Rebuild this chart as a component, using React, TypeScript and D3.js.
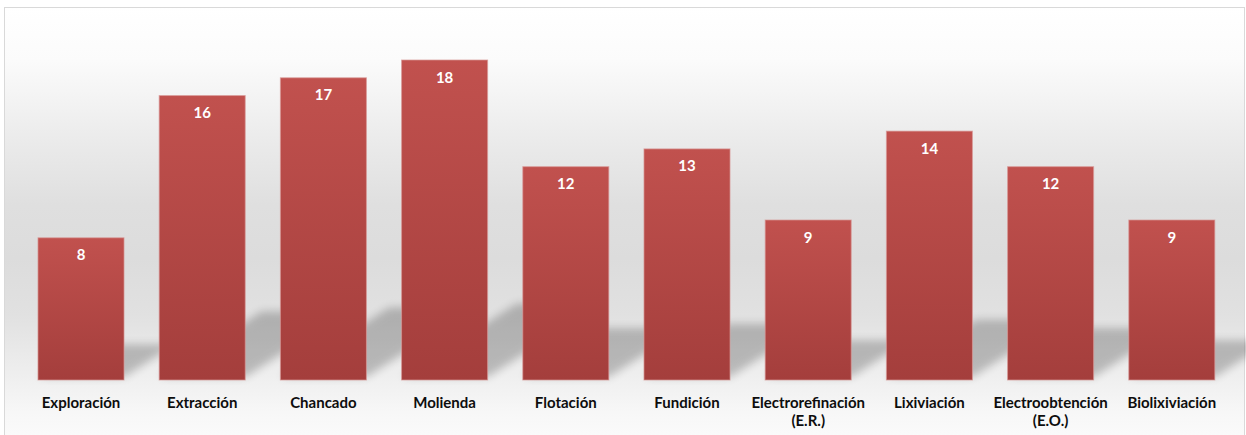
import React from "react";
import * as d3 from "d3";

const categories: string[] = [
  "Exploración",
  "Extracción",
  "Chancado",
  "Molienda",
  "Flotación",
  "Fundición",
  "Electrorefinación\n(E.R.)",
  "Lixiviación",
  "Electroobtención\n(E.O.)",
  "Biolixiviación",
];
const values: number[] = [8, 16, 17, 18, 12, 13, 9, 14, 12, 9];

const W = 1246;
const H = 435;
const BASE = 380;
const TOP = 60;

export default function App() {
  const x = d3
    .scaleBand<string>()
    .domain(categories)
    .range([20.4, 1232.4])
    .paddingInner(0.29)
    .paddingOuter(0.145);
  const y = d3.scaleLinear().domain([0, 18]).range([BASE, TOP]);
  const font = "Lato, 'Open Sans', sans-serif";

  return (
    <div style={{ position: "absolute", left: 0, top: 0 }}>
      <svg width={W} height={H} style={{ display: "block" }}>
        <defs>
          <linearGradient id="bg" x1="0" y1="0" x2="0" y2="1">
            <stop offset="0" stopColor="#ffffff" />
            <stop offset="0.12" stopColor="#fbfbfb" />
            <stop offset="0.3" stopColor="#ebebeb" />
            <stop offset="0.45" stopColor="#dfdfdf" />
            <stop offset="0.57" stopColor="#dcdcdc" />
            <stop offset="0.7" stopColor="#e1e1e1" />
            <stop offset="0.83" stopColor="#eeeeee" />
            <stop offset="0.92" stopColor="#f7f7f7" />
            <stop offset="1" stopColor="#fcfcfc" />
          </linearGradient>
          <linearGradient id="bar" x1="0" y1="0" x2="0" y2="1">
            <stop offset="0" stopColor="#c1514e" />
            <stop offset="1" stopColor="#a43e3c" />
          </linearGradient>
          <filter id="blur" x="-20%" y="-50%" width="140%" height="200%">
            <feGaussianBlur stdDeviation="4" />
          </filter>
        </defs>
        <rect x={4.5} y={7.5} width={1240} height={440} fill="url(#bg)" stroke="#d9d9d9" strokeWidth={1} />
        <g opacity={0.22} filter="url(#blur)">
          {categories.map((c, i) => {
            const x0 = x(c)!;
            const x1 = x0 + x.bandwidth();
            const h = BASE - y(values[i]);
            const sh = 0.23 * h;
            const dx = 0.36 * h;
            const b = BASE - 3;
            const pts = [
              [x0, b],
              [x1, b],
              [x1 + dx, b - sh],
              [x0 + dx, b - sh],
            ];
            return <polygon key={c} points={pts.map((p) => p.join(",")).join(" ")} fill="#000" />;
          })}
        </g>
        {categories.map((c, i) => {
          const x0 = x(c)!;
          const top = y(values[i]);
          return (
            <g key={c}>
              <rect
                x={x0}
                y={top}
                width={x.bandwidth()}
                height={BASE - top}
                fill="url(#bar)"
                stroke="#d99a98"
                strokeOpacity={0.7}
                strokeWidth={1}
              />
              <text
                x={x0 + x.bandwidth() / 2}
                y={top + 22.5}
                textAnchor="middle"
                fill="#ffffff"
                fontFamily={font}
                fontWeight={700}
                fontSize={15}
              >
                {values[i]}
              </text>
              <text
                x={x0 + x.bandwidth() / 2}
                y={408}
                textAnchor="middle"
                fill="#0d0d0d"
                fontFamily={font}
                fontWeight={700}
                fontSize={15}
              >
                {c.split("\n").map((line, k) => (
                  <tspan key={k} x={x0 + x.bandwidth() / 2} dy={k === 0 ? 0 : 18}>
                    {line}
                  </tspan>
                ))}
              </text>
            </g>
          );
        })}
      </svg>
    </div>
  );
}
